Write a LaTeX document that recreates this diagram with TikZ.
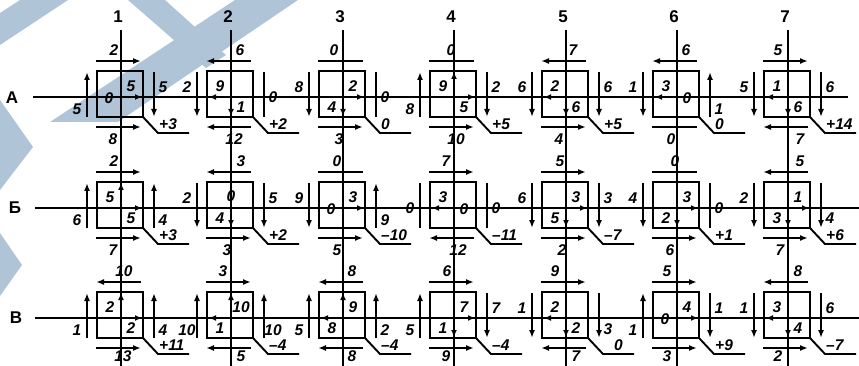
\documentclass[tikz,border=0pt]{standalone}
\usepackage{fontspec}
\setmainfont{Liberation Sans}
\usetikzlibrary{arrows.meta}
\definecolor{wm}{RGB}{176,196,216}
\newcommand\numf{\fontsize{15.5}{15.5}\selectfont\bfseries\itshape}
\tikzset{
 ln/.style={line width=1.9pt},
 arr/.style={line width=1.9pt,-{Latex[length=8pt,width=6pt]}},
 inarr/.style={line width=2.2pt,-{Latex[length=7pt,width=6pt]}},
 boxl/.style={line width=2.4pt},
 axisl/.style={line width=1.5pt},
 num/.style={font=\numf,inner sep=0pt},
 lbl/.style={font=\fontsize{17}{17}\selectfont\bfseries,inner sep=0pt},
 wmk/.style={fill=wm,draw=none}
}
\def\by{42}
\newcommand\Bx{\draw[boxl] (-24,-26) rectangle (22,20);}
\newcommand\TopR[2]{\draw[arr] (-25,-36) -- (20,-36); \node[num] (\cid-t) at (#2,-47) {#1};}
\newcommand\TopL[2]{\draw[arr] (20,-36) -- (-25,-36); \node[num] (\cid-t) at (#2,-47) {#1};}
\newcommand\TopN[2]{\draw[ln] (-25,-36) -- (20,-36); \node[num] (\cid-t) at (#2,-47) {#1};}
\newcommand\BotR[2]{\draw[arr] (-25,30) -- (20,30); \node[num] (\cid-b) at (#2,\by) {#1};}
\newcommand\BotL[2]{\draw[arr] (20,30) -- (-25,30); \node[num] (\cid-b) at (#2,\by) {#1};}
\newcommand\BotN[2]{\draw[ln] (-25,30) -- (20,30); \node[num] (\cid-b) at (#2,\by) {#1};}
\newcommand\LftU[1]{\draw[arr] (-34,20) -- (-34,-25); \node[num] (\cid-l) at (-44,12) {#1};}
\newcommand\LftD[1]{\draw[arr] (-34,-25) -- (-34,20); \node[num] (\cid-l) at (-44,-10) {#1};}
\newcommand\LftN[1]{\draw[ln] (-34,-25) -- (-34,20); \node[num] (\cid-l) at (-44,0) {#1};}
\newcommand\RgtU[2][12]{\draw[arr] (33,20) -- (33,-25); \node[num] (\cid-r) at (42,#1) {#2};}
\newcommand\RgtD[2][-10]{\draw[arr] (33,-25) -- (33,20); \node[num] (\cid-r) at (42,#1) {#2};}
\newcommand\RgtN[2][0]{\draw[ln] (33,-25) -- (33,20); \node[num] (\cid-r) at (42,#1) {#2};}
\newcommand\InR{\draw[inarr] (0,0) -- (21,0);}
\newcommand\InL{\draw[inarr] (0,0) -- (-22,0);}
\newcommand\InU{\draw[inarr] (0,0) -- (0,-25);}
\newcommand\InD{\draw[inarr] (0,0) -- (0,19);}
\newcommand\TL[1]{\node[num] (\cid-tl) at (-11,-11) {#1};}
\newcommand\TR[1]{\node[num] (\cid-tr) at (10,-11) {#1};}
\newcommand\BL[1]{\node[num] (\cid-bl) at (-11,10) {#1};}
\newcommand\BR[1]{\node[num] (\cid-br) at (10,10) {#1};}
\newcommand\ML[1]{\node[num] (\cid-ml) at (-12,1) {#1};}
\newcommand\MR[1]{\node[num] (\cid-mr) at (10,1) {#1};}
\newcommand\TM[1]{\node[num] (\cid-tm) at (0,-12) {#1};}
\newcommand\Lead[2][38]{\draw[ln] (22,20) -- (37,36) -- (68,36); \node[num,anchor=south west] (\cid-s) at (#1,33) {#2};}
\newcommand\Cell[3]{\begin{scope}[shift={(#1,#2)}]\def\cid{#3}\Bx}
\newcommand\EndCell{\end{scope}}
\begin{document}
\begin{tikzpicture}[x=1pt,y=-1pt]
\useasboundingbox (0,0) rectangle (859,366);
% watermark
\fill[wmk] (20,0) -- (68,0) -- (0,45) -- (0,13) -- cycle;
\fill[wmk] (235,0) -- (298,0) -- (118,122) -- (50,122) -- cycle;
\fill[wmk] (128,0) -- (165,0) -- (226,55) -- (206,68) -- cycle;
\fill[wmk] (0,100) -- (33,147) -- (0,190) -- cycle;
\fill[wmk] (0,233) -- (22,265) -- (0,296) -- cycle;
% grid
\foreach \x/\t in {121/1,231/2,343/3,454/4,566/5,677/6,788/7}{
  \node[lbl] (h\t) at (\x-3,17) {\t};
  \draw[axisl] (\x,30) -- (\x,366);
}
\node[lbl] (rA) at (12,98) {А};
\node[lbl] (rB) at (15,208) {Б};
\node[lbl] (rC) at (16,318) {В};
\draw[axisl] (33,97) -- (848,97);
\draw[axisl] (35,208) -- (859,208);
\draw[axisl] (35,318) -- (859,318);
% row A
\Cell{121}{97}{A1}\TopR{2}{-7}\BotR{8}{-8}\LftU{5}\RgtD{5}\InR\ML{0}\TR{5}\Lead{+3}\EndCell
\Cell{231}{97}{A2}\TopL{6}{9}\BotL{12}{3}\LftD{2}\RgtN{0}\InL\InD\TL{9}\BR{1}\Lead{+2}\EndCell
\Cell{343}{97}{A3}\TopN{0}{-9}\BotR{3}{-4}\LftD{8}\RgtN{0}\InR\InD\TR{2}\BL{4}\Lead{0}\EndCell
\Cell{454}{97}{A4}\TopN{0}{-3}\BotR{10}{2}\LftU{8}\RgtD{2}\InU\InR\TL{9}\BR{5}\Lead{+5}\EndCell
\Cell{566}{97}{A5}\TopL{7}{7}\BotR{4}{-7}\LftD{6}\RgtD{6}\InL\InD\TL{2}\BR{6}\Lead{+5}\EndCell
\Cell{677}{97}{A6}\TopL{6}{9}\BotN{0}{-6}\LftD{1}\RgtU{1}\InL\TL{3}\MR{0}\Lead{0}\EndCell
\Cell{788}{97}{A7}\TopR{5}{-10}\BotL{7}{12}\LftD{5}\RgtD{6}\InL\InD\TL{1}\BR{6}\Lead{+14}\EndCell
% row B
\Cell{121}{208}{B1}\TopR{2}{-7}\BotR{7}{-8}\LftU{6}\RgtU{4}\InU\InR\TL{5}\BR{5}\Lead{+3}\EndCell
\Cell{231}{208}{B2}\TopL{3}{10}\BotR{3}{-4}\LftD{2}\RgtD{5}\InD\TM{0}\BL{4}\Lead{+2}\EndCell
\Cell{343}{208}{B3}\TopN{0}{-6}\BotR{5}{-6}\LftD{9}\RgtU{9}\InR\ML{0}\TR{3}\Lead{–10}\EndCell
\Cell{454}{208}{B4}\TopR{7}{-8}\BotL{12}{4}\LftN{0}\RgtN{0}\InL\TL{3}\MR{0}\Lead{–11}\EndCell
\Cell{566}{208}{B5}\TopR{5}{-6}\BotR{2}{-4}\LftD{6}\RgtD{3}\InR\InD\TR{3}\BL{5}\Lead{–7}\EndCell
\Cell{677}{208}{B6}\TopN{0}{-2}\BotR{6}{-7}\LftD{4}\RgtN{0}\InR\InD\TR{3}\BL{2}\Lead{+1}\EndCell
\Cell{788}{208}{B7}\TopL{5}{12}\BotR{7}{-8}\LftD{2}\RgtD[10]{4}\InR\InD\TR{1}\BL{3}\Lead{+6}\EndCell
% row C
\def\by{38}
\Cell{121}{318}{C1}\TopL{10}{3}\BotR{13}{2}\LftU{1}\RgtU{4}\InU\InR\TL{2}\BR{2}\Lead{+11}\EndCell
\Cell{231}{318}{C2}\TopR{3}{-8}\BotL{5}{10}\LftU{10}\RgtU{10}\InU\InL\TR{10}\BL{1}\Lead{–4}\EndCell
\Cell{343}{318}{C3}\TopL{8}{9}\BotL{8}{9}\LftU{5}\RgtU{2}\InU\InL\TR{9}\BL{8}\Lead{–4}\EndCell
\Cell{454}{318}{C4}\TopR{6}{-7}\BotR{9}{-8}\LftU{5}\RgtD{7}\InR\InD\TR{7}\BL{1}\Lead{–4}\EndCell
\Cell{566}{318}{C5}\TopR{9}{-11}\BotL{7}{10}\LftD{1}\RgtD[11]{3}\InL\InD\TL{2}\BR{2}\Lead[48]{0}\EndCell
\Cell{677}{318}{C6}\TopR{5}{-10}\BotR{3}{-10}\LftU{1}\RgtD{1}\InR\ML{0}\TR{4}\Lead{+9}\EndCell
\Cell{788}{318}{C7}\TopL{8}{10}\BotR{2}{-10}\LftD{1}\RgtD{6}\InL\InD\TL{3}\BR{4}\Lead{–7}\EndCell
\end{tikzpicture}
\end{document}
